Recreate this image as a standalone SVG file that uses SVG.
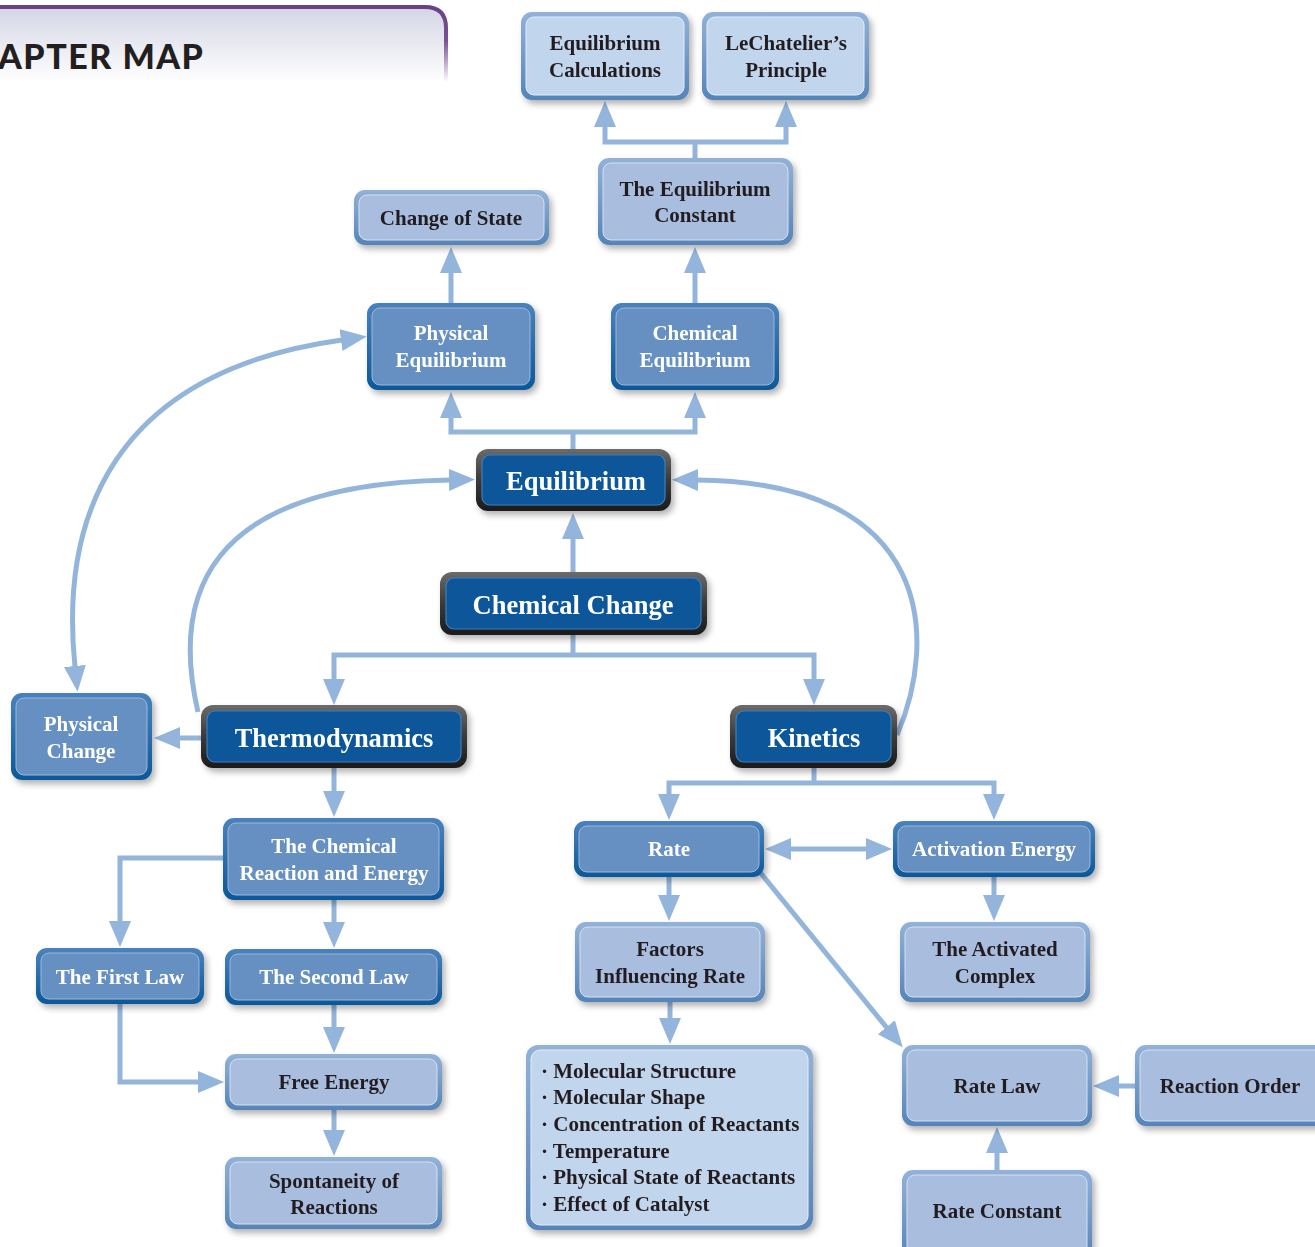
<svg xmlns="http://www.w3.org/2000/svg" width="1315" height="1247" viewBox="0 0 1315 1247">
  <style>
    .lbl { font-family: "Liberation Serif", "Times New Roman", serif; font-weight: bold; text-anchor: middle; }
    .dark .lbl { fill: #ffffff; font-size: 26.5px; }
    .mid .lbl { fill: #ffffff; font-size: 21px; }
    .light .lbl, .pale .lbl { fill: #231f20; font-size: 21px; }
    .list { font-family: "Liberation Serif", "Times New Roman", serif; font-weight: bold; font-size: 21px; fill: #231f20; }
    .dark .outer { fill: url(#gDarkRim); }
    .dark .inner { fill: #07579a; stroke: #3d7fbe; stroke-width: 1.2; }
    .mid .outer { fill: url(#gMidRim); }
    .mid .inner { fill: #6690c1; stroke: #9ab8dc; stroke-width: 1; }
    .light .outer { fill: url(#gLightRim); }
    .light .inner { fill: #a9bedf; stroke: #d3e0f0; stroke-width: 1; }
    .pale .outer { fill: url(#gLightRim); }
    .pale .inner { fill: #c1d5ec; stroke: #e3edf8; stroke-width: 1; }
    .node { filter: url(#shadow); }
    #connectors path { fill: none; stroke: #94b5db; stroke-width: 5; stroke-linejoin: miter; }
    .arr { marker-end: url(#head); }
    .arr2 { marker-start: url(#head); marker-end: url(#head); }
    .header-text { font-family: "Lato", "Liberation Sans", sans-serif; font-weight: 900; font-size: 34px; letter-spacing: 1.5px; fill: #231f20; }
  </style>
  <defs>
    <marker id="head" markerUnits="userSpaceOnUse" markerWidth="28" markerHeight="24" refX="1" refY="11" orient="auto-start-reverse" viewBox="0 0 28 24">
      <path d="M0,0 L26,11 L0,22 z" fill="#94b5db"/>
    </marker>
    <linearGradient id="gDarkRim" x1="0" y1="0" x2="0" y2="1">
      <stop offset="0" stop-color="#6b6b6b"/>
      <stop offset="0.5" stop-color="#3a3a3a"/>
      <stop offset="1" stop-color="#1b1b1b"/>
    </linearGradient>
    <linearGradient id="gMidRim" x1="0" y1="0" x2="0" y2="1">
      <stop offset="0" stop-color="#4a82bd"/>
      <stop offset="1" stop-color="#0c5899"/>
    </linearGradient>
    <linearGradient id="gLightRim" x1="0" y1="0" x2="0" y2="1">
      <stop offset="0" stop-color="#92b2d8"/>
      <stop offset="1" stop-color="#5584b9"/>
    </linearGradient>
    <linearGradient id="gHeaderFill" x1="0" y1="0" x2="0" y2="1">
      <stop offset="0" stop-color="#d3d5e4"/>
      <stop offset="1" stop-color="#ffffff"/>
    </linearGradient>
    <linearGradient id="gHeaderRim" x1="0" y1="0" x2="0" y2="1">
      <stop offset="0" stop-color="#6c3f86"/>
      <stop offset="0.45" stop-color="#7a5296"/>
      <stop offset="1" stop-color="#7a5296" stop-opacity="0"/>
    </linearGradient>
    <filter id="shadow" x="-10%" y="-15%" width="125%" height="140%">
      <feDropShadow dx="3" dy="4" stdDeviation="3" flood-color="#000000" flood-opacity="0.3"/>
    </filter>
  </defs>

  <rect width="1315" height="1247" fill="#ffffff"/>

  <!-- chapter header tab -->
  <g id="header">
    <path d="M-10,7 H425 Q446,7 446,28 V82 H-10 Z" fill="url(#gHeaderFill)"/>
    <path d="M-10,7 H425 Q446,7 446,28 V82" fill="none" stroke="url(#gHeaderRim)" stroke-width="4"/>
    <text class="header-text" x="-2" y="69">APTER MAP</text>
  </g>

  <!-- connectors -->
  <g id="connectors">
    <path d="M695,158 V142"/>
    <path class="arr2" d="M605,126 V142 H786 V126"/>
    <path class="arr" d="M695,303 V272"/>
    <path class="arr" d="M451,303 V272"/>
    <path d="M573,449 V432"/>
    <path class="arr2" d="M451,417 V432 H695 V417"/>
    <path class="arr" d="M573,572 V538"/>
    <path d="M573,635 V655"/>
    <path class="arr2" d="M334,680 V655 H814 V680"/>
    <path class="arr" d="M201,738 H179"/>
    <path class="arr" d="M198,712 C172,600 200,484 450,480"/>
    <path class="arr" d="M897,735 C938,640 935,482 697,480"/>
    <path class="arr2" d="M75,667 C60,520 110,372 342,340"/>
    <path class="arr" d="M334,768 V792"/>
    <path class="arr" d="M223,858 H120 V922"/>
    <path class="arr" d="M334,900 V923"/>
    <path class="arr" d="M334,1005 V1028"/>
    <path class="arr" d="M120,1004 V1082 H199"/>
    <path class="arr" d="M334,1110 V1131"/>
    <path d="M814,768 V783"/>
    <path class="arr2" d="M669,795 V783 H994 V795"/>
    <path class="arr2" d="M790,849 H867"/>
    <path class="arr" d="M669,877 V896"/>
    <path class="arr" d="M994,877 V896"/>
    <path class="arr" d="M759,871 L887,1028"/>
    <path class="arr" d="M670,1002 V1019"/>
    <path class="arr" d="M1135,1086 H1118"/>
    <path class="arr" d="M997,1170 V1152"/>
  </g>

  <!-- equilibrium branch -->
  <g id="n-eq-calc" class="node pale">
    <rect class="outer" x="521" y="12" width="168" height="88" rx="11"/>
    <rect class="inner" x="526" y="17" width="158" height="78" rx="8"/>
    <text class="lbl" x="605" y="50">Equilibrium</text>
    <text class="lbl" x="605" y="77">Calculations</text>
  </g>
  <g id="n-lechatelier" class="node pale">
    <rect class="outer" x="702" y="12" width="167" height="88" rx="11"/>
    <rect class="inner" x="707" y="17" width="157" height="78" rx="8"/>
    <text class="lbl" x="786" y="50">LeChatelier’s</text>
    <text class="lbl" x="786" y="77">Principle</text>
  </g>
  <g id="n-eq-constant" class="node light">
    <rect class="outer" x="598" y="158" width="195" height="87" rx="11"/>
    <rect class="inner" x="603" y="163" width="185" height="77" rx="8"/>
    <text class="lbl" x="695" y="196">The Equilibrium</text>
    <text class="lbl" x="695" y="222">Constant</text>
  </g>
  <g id="n-change-state" class="node light">
    <rect class="outer" x="354" y="190" width="195" height="55" rx="11"/>
    <rect class="inner" x="359" y="195" width="185" height="45" rx="8"/>
    <text class="lbl" x="451" y="225">Change of State</text>
  </g>
  <g id="n-phys-eq" class="node mid">
    <rect class="outer" x="367" y="303" width="168" height="87" rx="11"/>
    <rect class="inner" x="372" y="308" width="158" height="77" rx="8"/>
    <text class="lbl" x="451" y="340">Physical</text>
    <text class="lbl" x="451" y="367">Equilibrium</text>
  </g>
  <g id="n-chem-eq" class="node mid">
    <rect class="outer" x="611" y="303" width="168" height="87" rx="11"/>
    <rect class="inner" x="616" y="308" width="158" height="77" rx="8"/>
    <text class="lbl" x="695" y="340">Chemical</text>
    <text class="lbl" x="695" y="367">Equilibrium</text>
  </g>
  <g id="n-equilibrium" class="node dark">
    <rect class="outer" x="476" y="449" width="195" height="62" rx="12"/>
    <rect class="inner" x="482" y="455" width="183" height="50" rx="8"/>
    <text class="lbl" x="576" y="490">Equilibrium</text>
  </g>
  <g id="n-chem-change" class="node dark">
    <rect class="outer" x="440" y="572" width="267" height="63" rx="12"/>
    <rect class="inner" x="446" y="578" width="255" height="51" rx="8"/>
    <text class="lbl" x="573" y="614">Chemical Change</text>
  </g>

  <!-- thermodynamics branch -->
  <g id="n-thermo" class="node dark">
    <rect class="outer" x="201" y="705" width="266" height="63" rx="12"/>
    <rect class="inner" x="207" y="711" width="254" height="51" rx="8"/>
    <text class="lbl" x="334" y="747">Thermodynamics</text>
  </g>
  <g id="n-phys-change" class="node mid">
    <rect class="outer" x="11" y="693" width="141" height="87" rx="11"/>
    <rect class="inner" x="16" y="698" width="131" height="77" rx="8"/>
    <text class="lbl" x="81" y="731">Physical</text>
    <text class="lbl" x="81" y="758">Change</text>
  </g>
  <g id="n-chem-reaction" class="node mid">
    <rect class="outer" x="223" y="818" width="221" height="82" rx="11"/>
    <rect class="inner" x="228" y="823" width="211" height="72" rx="8"/>
    <text class="lbl" x="334" y="853">The Chemical</text>
    <text class="lbl" x="334" y="880">Reaction and Energy</text>
  </g>
  <g id="n-first-law" class="node mid">
    <rect class="outer" x="36" y="948" width="168" height="56" rx="11"/>
    <rect class="inner" x="41" y="953" width="158" height="46" rx="8"/>
    <text class="lbl" x="120" y="984">The First Law</text>
  </g>
  <g id="n-second-law" class="node mid">
    <rect class="outer" x="225" y="949" width="217" height="56" rx="11"/>
    <rect class="inner" x="230" y="954" width="207" height="46" rx="8"/>
    <text class="lbl" x="334" y="984">The Second Law</text>
  </g>
  <g id="n-free-energy" class="node light">
    <rect class="outer" x="225" y="1054" width="217" height="56" rx="11"/>
    <rect class="inner" x="230" y="1059" width="207" height="46" rx="8"/>
    <text class="lbl" x="334" y="1089">Free Energy</text>
  </g>
  <g id="n-spontaneity" class="node light">
    <rect class="outer" x="225" y="1157" width="217" height="72" rx="11"/>
    <rect class="inner" x="230" y="1162" width="207" height="62" rx="8"/>
    <text class="lbl" x="334" y="1188">Spontaneity of</text>
    <text class="lbl" x="334" y="1214">Reactions</text>
  </g>

  <!-- kinetics branch -->
  <g id="n-kinetics" class="node dark">
    <rect class="outer" x="730" y="705" width="167" height="63" rx="12"/>
    <rect class="inner" x="736" y="711" width="155" height="51" rx="8"/>
    <text class="lbl" x="814" y="747">Kinetics</text>
  </g>
  <g id="n-rate" class="node mid">
    <rect class="outer" x="574" y="821" width="190" height="56" rx="11"/>
    <rect class="inner" x="579" y="826" width="180" height="46" rx="8"/>
    <text class="lbl" x="669" y="856">Rate</text>
  </g>
  <g id="n-activation" class="node mid">
    <rect class="outer" x="893" y="821" width="202" height="56" rx="11"/>
    <rect class="inner" x="898" y="826" width="192" height="46" rx="8"/>
    <text class="lbl" x="994" y="856">Activation Energy</text>
  </g>
  <g id="n-factors" class="node light">
    <rect class="outer" x="575" y="922" width="190" height="80" rx="11"/>
    <rect class="inner" x="580" y="927" width="180" height="70" rx="8"/>
    <text class="lbl" x="670" y="956">Factors</text>
    <text class="lbl" x="670" y="983">Influencing Rate</text>
  </g>
  <g id="n-activated-complex" class="node light">
    <rect class="outer" x="900" y="922" width="190" height="80" rx="11"/>
    <rect class="inner" x="905" y="927" width="180" height="70" rx="8"/>
    <text class="lbl" x="995" y="956">The Activated</text>
    <text class="lbl" x="995" y="983">Complex</text>
  </g>
  <g id="n-factor-list" class="node pale">
    <rect class="outer" x="526" y="1045" width="287" height="185" rx="12"/>
    <rect class="inner" x="531" y="1050" width="277" height="175" rx="9"/>
    <text class="list" x="541" y="1078">· Molecular Structure</text>
    <text class="list" x="541" y="1104">· Molecular Shape</text>
    <text class="list" x="541" y="1131">· Concentration of Reactants</text>
    <text class="list" x="541" y="1158">· Temperature</text>
    <text class="list" x="541" y="1184">· Physical State of Reactants</text>
    <text class="list" x="541" y="1211">· Effect of Catalyst</text>
  </g>
  <g id="n-rate-law" class="node light">
    <rect class="outer" x="902" y="1045" width="190" height="81" rx="11"/>
    <rect class="inner" x="907" y="1050" width="180" height="71" rx="8"/>
    <text class="lbl" x="997" y="1093">Rate Law</text>
  </g>
  <g id="n-reaction-order" class="node light">
    <rect class="outer" x="1135" y="1045" width="195" height="81" rx="11"/>
    <rect class="inner" x="1140" y="1050" width="185" height="71" rx="8"/>
    <text class="lbl" x="1230" y="1093">Reaction Order</text>
  </g>
  <g id="n-rate-constant" class="node light">
    <rect class="outer" x="902" y="1170" width="190" height="90" rx="11"/>
    <rect class="inner" x="907" y="1175" width="180" height="80" rx="8"/>
    <text class="lbl" x="997" y="1218">Rate Constant</text>
  </g>
</svg>
